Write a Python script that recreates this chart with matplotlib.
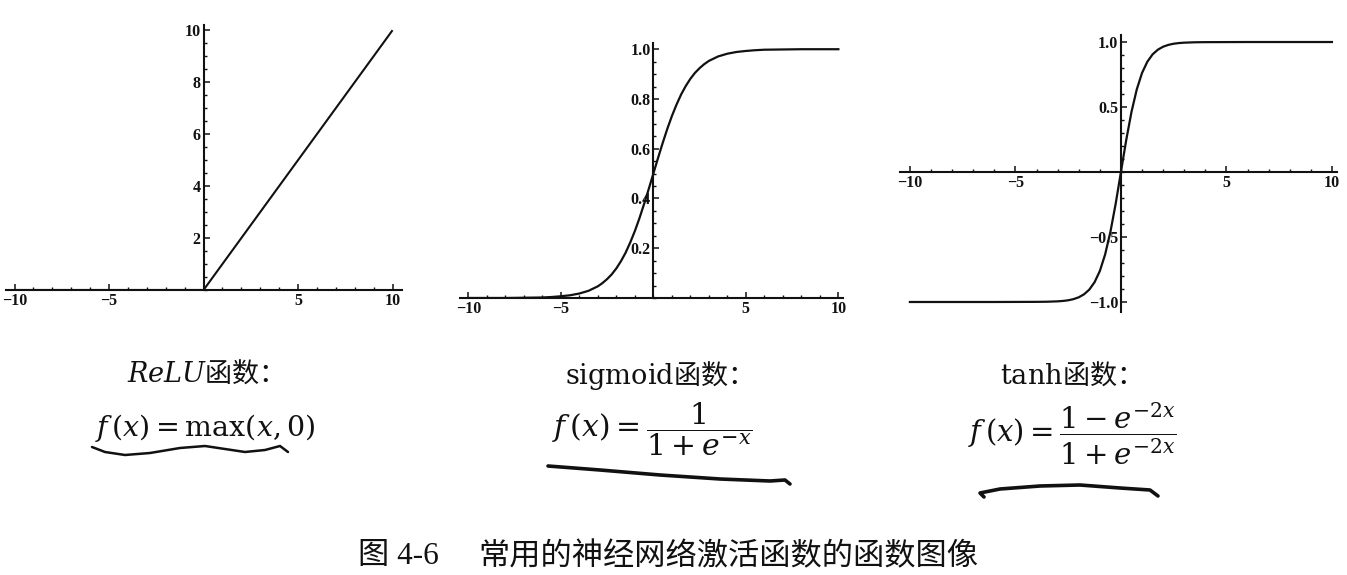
import matplotlib
matplotlib.use("Agg")
import matplotlib.pyplot as plt
from matplotlib.ticker import MultipleLocator, FixedLocator, FixedFormatter
from matplotlib.lines import Line2D

plt.rcParams['font.family'] = ['Noto Sans CJK SC', 'DejaVu Sans']
plt.rcParams['mathtext.fontset'] = 'dejavuserif'

# ---------------- data ----------------
relu_x = [-10, 0, 10]
relu_y = [0, 0, 10]

sig_x = [-10, -9, -8, -7, -6, -5.5, -5, -4.5, -4, -3.5, -3, -2.75, -2.5, -2.25, -2,
         -1.75, -1.5, -1.25, -1, -0.75, -0.5, -0.25, 0, 0.25, 0.5, 0.75, 1, 1.25,
         1.5, 1.75, 2, 2.25, 2.5, 2.75, 3, 3.5, 4, 4.5, 5, 5.5, 6, 7, 8, 9, 10]
sig_y = [0.000, 0.000, 0.000, 0.001, 0.002, 0.004, 0.007, 0.011, 0.018, 0.029, 0.047,
         0.060, 0.076, 0.095, 0.119, 0.148, 0.182, 0.223, 0.269, 0.321, 0.378, 0.438,
         0.500, 0.562, 0.622, 0.679, 0.731, 0.777, 0.818, 0.852, 0.881, 0.905, 0.924,
         0.940, 0.953, 0.971, 0.982, 0.989, 0.993, 0.996, 0.998, 0.999, 1.000, 1.000, 1.000]

tanh_x = [-10, -8, -6, -4, -3.5, -3, -2.75, -2.5, -2.25, -2, -1.75, -1.5, -1.25, -1,
          -0.75, -0.5, -0.25, 0, 0.25, 0.5, 0.75, 1, 1.25, 1.5, 1.75, 2, 2.25, 2.5,
          2.75, 3, 3.5, 4, 6, 8, 10]
tanh_y = [-1.000, -1.000, -1.000, -0.999, -0.998, -0.995, -0.992, -0.987, -0.978, -0.964,
          -0.941, -0.905, -0.848, -0.762, -0.635, -0.462, -0.245, 0.000, 0.245, 0.462,
          0.635, 0.762, 0.848, 0.905, 0.941, 0.964, 0.978, 0.987, 0.992, 0.995, 0.998,
          0.999, 1.000, 1.000, 1.000]

x_ticks = [-10, -5, 5, 10]
x_labels = ['\u221210', '\u22125', '5', '10']
relu_yticks = [2, 4, 6, 8, 10]
relu_ylabels = ['2', '4', '6', '8', '10']
sig_yticks = [0.2, 0.4, 0.6, 0.8, 1.0]
sig_ylabels = ['0.2', '0.4', '0.6', '0.8', '1.0']
tanh_yticks = [-1.0, -0.5, 0.5, 1.0]
tanh_ylabels = ['\u22121.0', '\u22120.5', '0.5', '1.0']

# ---------------- figure ----------------
W, H = 1347, 575
fig = plt.figure(figsize=(W / 100, H / 100), dpi=100)
fig.patch.set_facecolor('white')


def box(l, r, t, b):
    return [l / W, 1 - b / H, (r - l) / W, (b - t) / H]


def style(ax, xlim, ylim, yticks, ylabels, ymin_step):
    ax.set_xlim(*xlim)
    ax.set_ylim(*ylim)
    ax.patch.set_alpha(0)
    for s in ('top', 'right'):
        ax.spines[s].set_visible(False)
    ax.spines['left'].set_position(('data', 0))
    ax.spines['bottom'].set_position(('data', 0))
    for s in ('left', 'bottom'):
        ax.spines[s].set_linewidth(1.5)
        ax.spines[s].set_color('#111111')
    ax.xaxis.set_major_locator(FixedLocator(x_ticks))
    ax.xaxis.set_major_formatter(FixedFormatter(x_labels))
    ax.xaxis.set_minor_locator(MultipleLocator(1))
    ax.yaxis.set_major_locator(FixedLocator(yticks))
    ax.yaxis.set_major_formatter(FixedFormatter(ylabels))
    ax.yaxis.set_minor_locator(MultipleLocator(ymin_step))
    ax.tick_params(which='major', direction='in', length=4, width=1.1, color='#111111', pad=2)
    ax.tick_params(which='minor', direction='in', length=2.2, width=1.0, color='#111111')
    for lab in ax.get_xticklabels() + ax.get_yticklabels():
        lab.set_fontfamily('Liberation Serif')
        lab.set_fontweight('bold')
        lab.set_fontsize(11.5)
        lab.set_color('#111111')


ax1 = fig.add_axes(box(6, 402, 25, 290))
ax1.plot(relu_x, relu_y, color='#111111', lw=1.5, solid_capstyle='butt')
style(ax1, (-10.45, 10.5), (0, 10.2), relu_yticks, relu_ylabels, 0.5)

ax2 = fig.add_axes(box(460, 843, 43, 298))
ax2.plot(sig_x, sig_y, color='#111111', lw=1.6)
style(ax2, (-10.45, 10.25), (0, 1.025), sig_yticks, sig_ylabels, 0.05)

ax3 = fig.add_axes(box(900, 1337, 35, 312))
ax3.plot(tanh_x, tanh_y, color='#111111', lw=1.6)
style(ax3, (-10.47, 10.24), (-1.077, 1.054), tanh_yticks, tanh_ylabels, 0.1)

# ---------------- texts ----------------
def fx(px):
    return px / W


def fy(py):
    return 1 - py / H


txt = dict(color='#111111', ha='center', va='center')
fig.text(fx(198), fy(373), r'$\mathit{ReLU}$函数：', fontsize=19.5, **txt)
fig.text(fx(205), fy(428), r'$f\,(x) = \mathrm{max}(x, 0)$', fontsize=20.5, **txt)

fig.text(fx(652), fy(375), r'$\mathrm{sigmoid}$函数：', fontsize=19.5, **txt)
fig.text(fx(652), fy(429), r'$f\,(x) = \dfrac{1}{1 + e^{-x}}$', fontsize=21.5, **txt)

fig.text(fx(1064), fy(375), r'$\mathrm{tanh}$函数：', fontsize=19.5, **txt)
fig.text(fx(1072), fy(434), r'$f\,(x) = \dfrac{1 - e^{-2x}}{1 + e^{-2x}}$', fontsize=21, **txt)

fig.text(fx(358), fy(556), '图 4-6', fontsize=22.5, color='#111111', ha='left', va='center',
         family=['Liberation Serif', 'Noto Sans CJK SC'])
fig.text(fx(478), fy(556), '常用的神经网络激活函数的函数图像', fontsize=22.5,
         color='#111111', ha='left', va='center')

# hand-drawn underlines (decoration)
squig1 = ([92, 105, 125, 150, 180, 205, 225, 245, 265, 280, 288],
          [447, 452, 455, 453, 448, 446, 449, 452, 450, 446, 452])
squig2 = ([548, 600, 660, 720, 770, 785, 790],
          [466, 470, 475, 479, 481, 480, 484])
squig3 = ([984, 980, 1000, 1040, 1080, 1120, 1150, 1158],
          [497, 493, 489, 486, 485, 488, 490, 496])
for (xs, ys), lw in [(squig1, 1.8), (squig2, 2.6), (squig3, 2.6)]:
    fig.add_artist(Line2D([fx(v) for v in xs], [fy(v) for v in ys],
                          color='#111111', lw=lw, solid_capstyle='round',
                          solid_joinstyle='round'))

fig.savefig('out.png', dpi=100, facecolor='white')
